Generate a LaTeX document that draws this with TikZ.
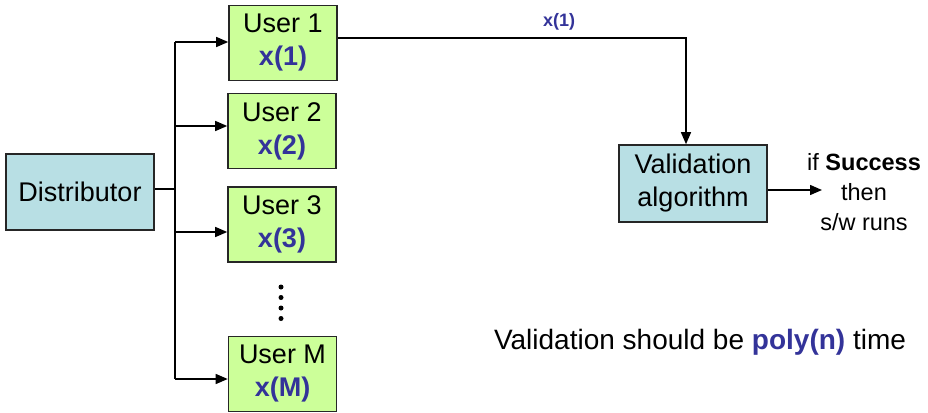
\documentclass[tikz,border=0pt]{standalone}
\usepackage{fontspec}
\setmainfont{Liberation Sans}
\usetikzlibrary{arrows.meta}

\definecolor{boxgreen}{HTML}{CCFF99}
\definecolor{boxblue}{HTML}{B8DFE4}
\definecolor{txtblue}{HTML}{333399}

\tikzset{
  box/.style={draw=black!85, line width=1.6pt, align=center, inner sep=0pt,
              font=\fontsize{27}{33}\selectfont},
  userbox/.style={box, fill=boxgreen, minimum width=108pt, minimum height=75pt},
  procbox/.style={box, fill=boxblue, minimum width=148pt, minimum height=76pt},
  wire/.style={line width=1.4pt, draw=black},
  arrow/.style={wire, -{Triangle[length=12pt,width=10pt]}},
  var/.style={font=\bfseries, text=txtblue},
  dot/.style={circle, fill=black, inner sep=0pt, minimum size=5pt}
}

\begin{document}
\begin{tikzpicture}[x=1pt, y=-1pt]
  \useasboundingbox (0,0) rectangle (928,412);

  % boxes
  \node[procbox] (dist) at (80,192) {Distributor};
  \node[userbox] (u1) at (283,43)    {User 1\\{\bfseries\color{txtblue}x(1)}};
  \node[userbox] (u2) at (282,131)   {User 2\\{\bfseries\color{txtblue}x(2)}};
  \node[userbox] (u3) at (282,224.5) {User 3\\{\bfseries\color{txtblue}x(3)}};
  \node[userbox] (um) at (282.5,374) {User M\\{\bfseries\color{txtblue}x(M)}};
  \node[procbox, minimum height=77pt] (val) at (693,183.5) {Validation\\algorithm};

  % vertical ellipsis between User 3 and User M
  \node[dot] (d1) at (281,287) {};
  \node[dot] (d2) at (281,297.5) {};
  \node[dot] (d3) at (281,308) {};
  \node[dot] (d4) at (281,318.5) {};

  % distribution tree
  \coordinate (jd) at (175,189);
  \coordinate (j1) at (175,42);
  \coordinate (j2) at (175,126);
  \coordinate (j3) at (175,232);
  \coordinate (jm) at (175,379);
  \draw[wire] (dist.east |- jd) -- (jd);
  \draw[wire] (j1) -- (jm);
  \draw[arrow] (j1) -- (u1.west |- j1);
  \draw[arrow] (j2) -- (u2.west |- j2);
  \draw[arrow] (j3) -- (u3.west |- j3);
  \draw[arrow] (jm) -- (um.west |- jm);

  % User 1 submits x(1) for validation
  \coordinate (c1) at (686,38);
  \draw[arrow] (u1.east |- c1) -- (c1) -- (c1 |- val.north);
  \node[var, font=\bfseries\fontsize{18}{20}\selectfont] (lbl) at (559,22) {x(1)};

  % result
  \coordinate (out) at (822,190);
  \draw[arrow] (val.east |- out) -- (out);
  \node[align=center, inner sep=0pt, font=\fontsize{23.5}{30}\selectfont] (res) at (864,192)
    {if \textbf{Success}\\then\\s/w runs};

  % requirement note
  \node[anchor=base, inner sep=0pt, font=\fontsize{28}{33}\selectfont] (note) at (700,349)
    {Validation should be \textbf{\color{txtblue}poly(n)} time};
\end{tikzpicture}
\end{document}
